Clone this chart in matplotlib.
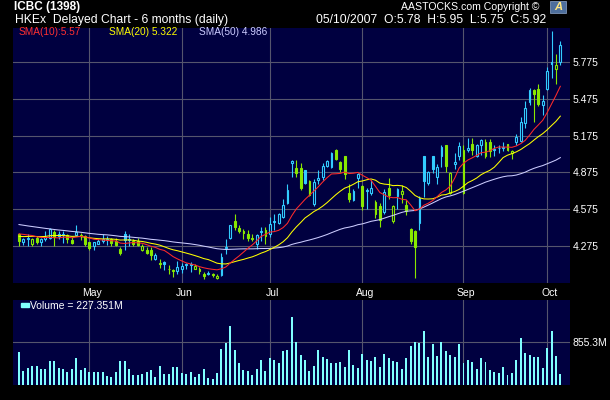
import numpy as np
import pandas as pd
import matplotlib
matplotlib.use("Agg")
import matplotlib.pyplot as plt
from matplotlib.patches import Rectangle
from matplotlib.transforms import blended_transform_factory

plt.rcParams['font.family'] = ['Liberation Sans', 'DejaVu Sans']

W, H = 610, 400

# daily OHLC, 1398.HK, Apr 4 -> Oct 5 2007
opens = [4.37, 4.30, 4.33, 4.29, 4.34, 4.30, 4.33, 4.34, 4.385, 4.37,
         4.36, 4.365, 4.32, 4.365, 4.36, 4.355, 4.30, 4.27, 4.29, 4.31,
         4.32, 4.325, 4.315, 4.25, 4.37, 4.32, 4.315, 4.31, 4.24, 4.24,
         4.24, 4.168, 4.13, 4.14, 4.085, 4.075, 4.065, 4.08, 4.115, 4.115,
         4.085, 4.085, 4.04, 4.045, 4.045, 4.01, 4.037, 4.255, 4.34, 4.475,
         4.42, 4.39, 4.37, 4.34, 4.29, 4.385, 4.40, 4.37, 4.465, 4.46,
         4.51, 4.62, 4.95, 4.912, 4.91, 4.895, 4.80, 4.617, 4.81, 4.836,
         4.926, 4.918, 5.055, 4.956, 5.005, 4.705, 4.65, 4.83, 4.76, 4.72,
         4.707, 4.63, 4.60, 4.55, 4.748, 4.474, 4.68, 4.70, 4.605, 4.41,
         4.39, 4.458, 5.01, 4.79, 5.01, 4.84, 5.007, 5.096, 4.706, 4.94,
         5.006, 4.706, 5.06, 5.11, 5.007, 5.10, 5.006, 5.12, 5.06, 5.07,
         5.07, 5.105, 5.03, 5.12, 5.13, 5.278, 5.45, 5.55, 5.555, 5.428,
         5.56, 5.775, 5.725, 5.78]
highs = [4.38, 4.34, 4.37, 4.34, 4.35, 4.34, 4.39, 4.42, 4.40, 4.39,
         4.39, 4.37, 4.345, 4.44, 4.375, 4.36, 4.305, 4.305, 4.325, 4.37,
         4.35, 4.34, 4.34, 4.265, 4.39, 4.37, 4.325, 4.34, 4.29, 4.26,
         4.26, 4.21, 4.165, 4.15, 4.115, 4.08, 4.15, 4.13, 4.13, 4.14,
         4.125, 4.10, 4.06, 4.07, 4.05, 4.04, 4.21, 4.325, 4.445, 4.535,
         4.44, 4.41, 4.40, 4.37, 4.37, 4.425, 4.425, 4.51, 4.535, 4.54,
         4.66, 4.78, 4.978, 4.978, 4.95, 4.895, 4.815, 4.82, 4.895, 4.95,
         4.978, 5.044, 5.063, 4.964, 5.01, 4.775, 4.74, 4.87, 4.77, 4.75,
         4.81, 4.645, 4.62, 4.74, 4.83, 4.61, 4.748, 4.77, 4.646, 4.42,
         4.40, 4.68, 5.01, 4.885, 5.01, 4.94, 5.10, 5.10, 4.88, 5.03,
         5.12, 5.10, 5.155, 5.155, 5.11, 5.15, 5.147, 5.15, 5.10, 5.10,
         5.12, 5.11, 5.06, 5.19, 5.33, 5.455, 5.565, 5.555, 5.60, 5.51,
         5.735, 6.03, 5.84, 5.95]
lows = [4.275, 4.28, 4.275, 4.275, 4.29, 4.275, 4.31, 4.325, 4.275, 4.33,
        4.295, 4.295, 4.29, 4.35, 4.32, 4.275, 4.24, 4.24, 4.29, 4.295,
        4.28, 4.275, 4.27, 4.195, 4.237, 4.275, 4.275, 4.27, 4.23, 4.205,
        4.155, 4.16, 4.09, 4.075, 4.045, 4.015, 4.04, 4.05, 4.085, 4.06,
        4.08, 4.04, 4.00, 4.03, 4.015, 4.00, 4.024, 4.207, 4.33, 4.40,
        4.375, 4.33, 4.315, 4.315, 4.25, 4.315, 4.29, 4.345, 4.40, 4.45,
        4.50, 4.615, 4.835, 4.835, 4.73, 4.78, 4.677, 4.60, 4.78, 4.815,
        4.918, 4.912, 4.972, 4.874, 4.822, 4.63, 4.64, 4.75, 4.57, 4.575,
        4.693, 4.50, 4.425, 4.535, 4.658, 4.463, 4.578, 4.62, 4.523, 4.29,
        4.008, 4.40, 4.676, 4.77, 4.87, 4.775, 4.92, 4.88, 4.70, 4.906,
        4.975, 4.70, 5.04, 5.02, 5.00, 5.02, 4.99, 5.00, 5.01, 5.03,
        5.05, 5.05, 4.98, 5.10, 5.125, 5.24, 5.43, 5.29, 5.414, 5.345,
        5.55, 5.65, 5.60, 5.75]
closes = [4.31, 4.325, 4.34, 4.325, 4.30, 4.325, 4.345, 4.41, 4.345, 4.35,
          4.365, 4.325, 4.295, 4.385, 4.35, 4.29, 4.255, 4.305, 4.31, 4.325,
          4.33, 4.295, 4.28, 4.21, 4.32, 4.33, 4.29, 4.28, 4.275, 4.215,
          4.195, 4.20, 4.12, 4.125, 4.08, 4.065, 4.10, 4.11, 4.12, 4.125,
          4.11, 4.065, 4.025, 4.05, 4.03, 4.025, 4.185, 4.26, 4.44, 4.425,
          4.39, 4.375, 4.34, 4.325, 4.36, 4.39, 4.355, 4.45, 4.48, 4.53,
          4.61, 4.73, 4.97, 4.87, 4.75, 4.786, 4.69, 4.795, 4.83, 4.923,
          4.965, 5.033, 4.986, 4.90, 4.863, 4.66, 4.72, 4.86, 4.60, 4.73,
          4.745, 4.53, 4.485, 4.71, 4.685, 4.60, 4.734, 4.72, 4.556, 4.31,
          4.267, 4.667, 4.80, 4.875, 4.905, 4.915, 5.082, 4.93, 4.87, 4.96,
          5.09, 5.06, 5.07, 5.055, 5.10, 5.14, 5.12, 5.05, 5.065, 5.075,
          5.08, 5.06, 5.05, 5.165, 5.29, 5.405, 5.55, 5.52, 5.433, 5.455,
          5.706, 5.765, 5.75, 5.92]
# volume in millions of shares
volumes = [663, 285, 345, 385, 385, 312, 325, 484, 484, 338,
           325, 265, 325, 544, 305, 345, 265, 265, 265, 265,
           186, 166, 265, 484, 484, 325, 192, 206, 225, 265,
           305, 166, 385, 225, 225, 365, 365, 245, 225, 265,
           166, 225, 325, 146, 126, 245, 723, 842, 1180, 703,
           444, 305, 285, 206, 325, 504, 285, 544, 504, 444,
           683, 703, 1359, 862, 603, 504, 285, 385, 703, 564,
           524, 444, 444, 464, 365, 703, 404, 345, 623, 504,
           484, 564, 365, 623, 544, 484, 464, 325, 544, 782,
           862, 842, 1081, 564, 822, 583, 862, 683, 603, 564,
           822, 444, 504, 464, 325, 544, 464, 305, 265, 245,
           365, 206, 245, 504, 941, 643, 603, 564, 564, 345,
           743, 1081, 583, 227.351]
# closes before the window, estimated so the SMAs start where the chart's do
closes_before = [4.60, 4.62, 4.58, 4.55, 4.57, 4.60, 4.63, 4.59, 4.56, 4.52,
                 4.54, 4.50, 4.53, 4.55, 4.52, 4.49, 4.48, 4.50, 4.46, 4.43,
                 4.47, 4.49, 4.45, 4.42, 4.44, 4.47, 4.45, 4.43, 4.46, 4.44,
                 4.36, 4.32, 4.30, 4.33, 4.35, 4.31, 4.29, 4.32, 4.34, 4.38,
                 4.36, 4.39, 4.37, 4.40, 4.38, 4.36, 4.39, 4.37, 4.37]
# values printed in the chart's legend
sma_periods = [10, 20, 50]
sma_last = [5.57, 5.322, 4.986]

hk_holidays = ["2007-04-05", "2007-04-06", "2007-04-09", "2007-05-01", "2007-05-24",
               "2007-06-19", "2007-07-02", "2007-09-26", "2007-10-01"]
days = pd.bdate_range("2007-04-04", "2007-10-05", freq="C", holidays=hk_holidays)

price_ticks = [4.275, 4.575, 4.875, 5.175, 5.475, 5.775]
vol_tick = 855.3

NAVY = "#000040"
GRID = "#55556d"
CYAN = "#33ccff"
GREEN = "#88e800"
VOLC = "#80ffff"
SMA_COLS = ["#ff2a2a", "#ffff00", "#ccccff"]

o = np.array(opens); h = np.array(highs); l = np.array(lows); c = np.array(closes)
x = np.arange(len(c))
prev = np.concatenate([[closes_before[-1]], c[:-1]])
col = np.where(c >= prev, CYAN, GREEN)
face = np.where(c > o, NAVY, col)   # hollow when close > open

allc = pd.Series(closes_before + closes)
n0 = len(closes_before)
smas = [allc.rolling(p).mean().to_numpy()[n0:] for p in sma_periods]

# first trading day of each month
month_pos = [i for i in range(1, len(days)) if days[i].month != days[i - 1].month]
month_lab = [days[i].strftime("%b") for i in month_pos]

fig = plt.figure(figsize=(W / 100, H / 100), dpi=100, facecolor="black")


def box(x0, y0, x1, y1):
    return [x0 / W, 1 - y1 / H, (x1 - x0) / W, (y1 - y0) / H]


ax = fig.add_axes(box(13, 28, 570, 283))
axv = fig.add_axes(box(13, 300, 570, 385))
for a in (ax, axv):
    a.set_facecolor(NAVY)
    for s in a.spines.values():
        s.set_visible(False)
    a.set_xlim(-1.36, 125.2)
    a.set_xticks(month_pos)
    a.grid(True, color=GRID, lw=0.8)
    a.set_axisbelow(True)
    a.tick_params(axis="x", length=0, labelbottom=False)
    a.tick_params(axis="y", length=0, pad=2, labelcolor="white", labelsize=7.5,
                  left=False, labelleft=False, right=True, labelright=True)

# candles
ax.vlines(x, l, h, colors=col, lw=0.8, zorder=3)
body_lo = np.minimum(o, c)
body_h = np.maximum(np.abs(c - o), 0.006)
ax.bar(x, body_h, bottom=body_lo, width=0.42, color=face, edgecolor=col,
       linewidth=0.8, zorder=4)
for s, cc in zip(smas[::-1], SMA_COLS[::-1]):
    ax.plot(x, s, color=cc, lw=0.75, zorder=5)
ax.set_ylim(3.968, 6.057)
ax.set_yticks(price_ticks)
ax.set_yticklabels(["%.3f" % t for t in price_ticks])

# volume
axv.bar(x, volumes, width=0.45, color=VOLC, zorder=3)
axv.set_ylim(0, 1690)
axv.set_yticks([vol_tick])
axv.set_yticklabels(["%.1fM" % vol_tick])

tr = blended_transform_factory(ax.transData, fig.transFigure)
for p, lab in zip(month_pos, month_lab):
    ax.text(p + 0.6, 1 - 293 / H, lab, transform=tr, ha="center", va="center",
            color="white", size=7.5)

# header
def ftext(px, py, s, **kw):
    fig.text(px / W, 1 - py / H, s, va="center", **kw)


ftext(14, 7, "ICBC (1398)", color="white", size=8.5, weight="bold")
ftext(15, 20, "HKEx  Delayed Chart - 6 months (daily)", color="white", size=8.7)
ftext(539, 7, "AASTOCKS.com Copyright ©", color="white", size=7.6, ha="right")
ftext(546, 20, "05/10/2007  O:%.2f  H:%.2f  L:%.2f  C:%.2f" % (o[-1], h[-1], l[-1], c[-1]),
      color="white", size=8.7, ha="right")
ftext(19, 32, "SMA(%d):%.2f" % (sma_periods[0], sma_last[0]), color="#ff3030", size=7.3)
ftext(109, 32, "SMA(%d) %.3f" % (sma_periods[1], sma_last[1]), color=SMA_COLS[1], size=7.3)
ftext(199, 32, "SMA(%d) %.3f" % (sma_periods[2], sma_last[2]), color=SMA_COLS[2], size=7.3)
ftext(30.5, 306, "Volume = %.3fM" % volumes[-1], color="white", size=7.5)
fig.add_artist(Rectangle((20.5 / W, 1 - 306.5 / H), 8 / W, 3.5 / H,
                         transform=fig.transFigure, color=VOLC))

# small logo box
fig.add_artist(Rectangle((550 / W, 1 - 13 / H), 16 / W, 12 / H,
                         transform=fig.transFigure, facecolor="#4d6e9c", edgecolor="#8fa8cc", lw=0.5))
ftext(558, 7.5, "A", color="#ffe680", size=8, weight="bold", ha="center", style="italic")

fig.savefig("out.png", dpi=100, facecolor="black")
